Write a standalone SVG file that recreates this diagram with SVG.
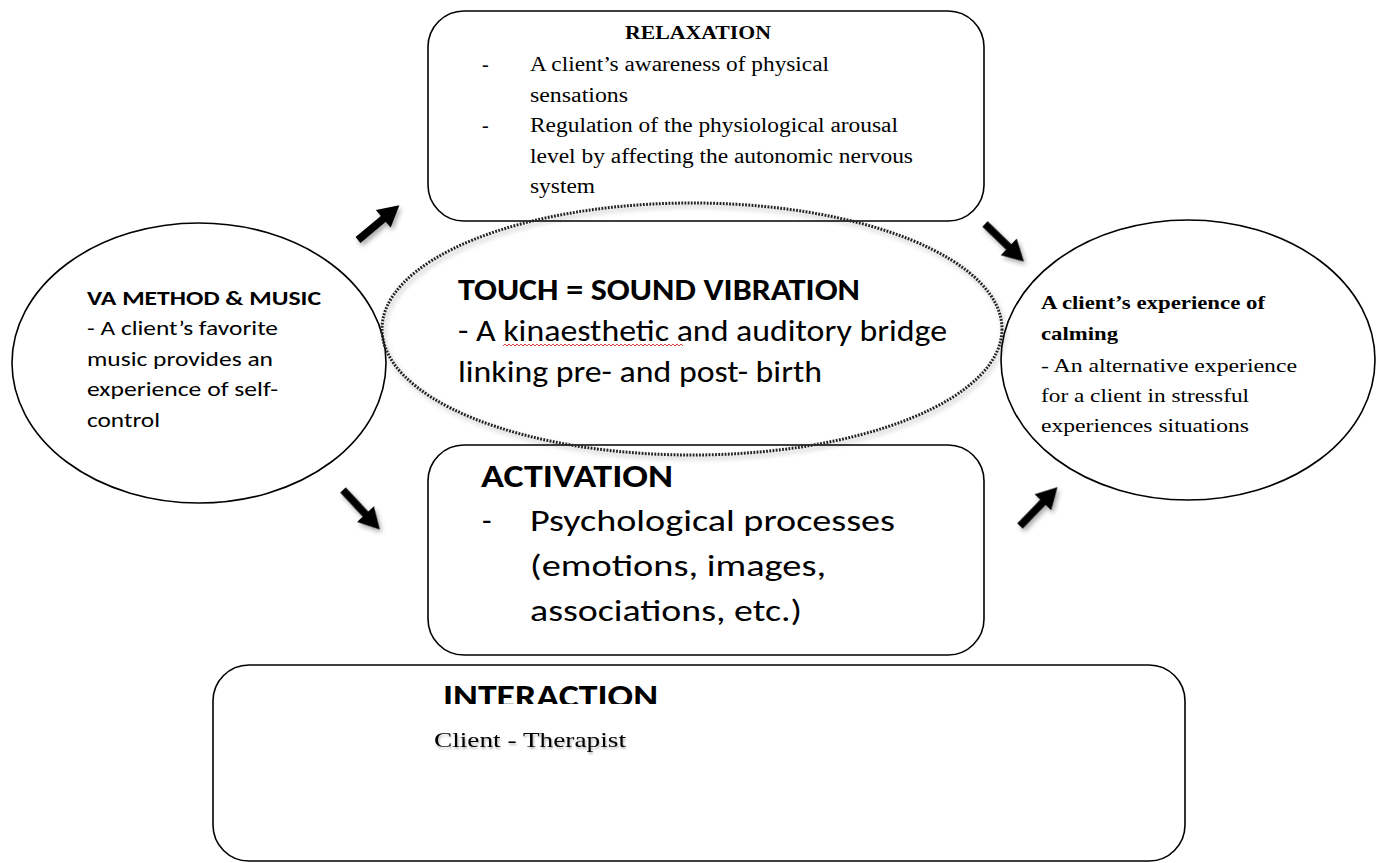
<svg xmlns="http://www.w3.org/2000/svg" width="1379" height="863" viewBox="0 0 1379 863">
<defs>
<style>
.box{fill:#fff;stroke:#000;stroke-width:1.6}
.sans{font-family:Calibri,Carlito,"Liberation Sans",Arial,sans-serif;fill:#000}
.serif{font-family:"Book Antiqua",Palatino,"Liberation Serif","DejaVu Serif",serif;fill:#000}
.b{font-weight:bold}
</style>
<filter id="sh" x="-30%" y="-30%" width="160%" height="160%">
<feGaussianBlur in="SourceAlpha" stdDeviation="2.5"/>
<feOffset dx="2" dy="3" result="o"/>
<feComponentTransfer><feFuncA type="linear" slope="0.35"/></feComponentTransfer>
<feMerge><feMergeNode/><feMergeNode in="SourceGraphic"/></feMerge>
</filter>
<filter id="tsh" x="-5%" y="-20%" width="110%" height="150%">
<feGaussianBlur in="SourceAlpha" stdDeviation="1"/>
<feOffset dx="1" dy="1.5"/>
<feComponentTransfer><feFuncA type="linear" slope="0.3"/></feComponentTransfer>
<feMerge><feMergeNode/><feMergeNode in="SourceGraphic"/></feMerge>
</filter>
<path id="arr" d="M0,-3.8 L33,-3.8 L33,-11.5 L54,0 L33,11.5 L33,3.8 L0,3.8 Z" fill="#000"/>
<clipPath id="clipInt"><rect x="400" y="670" width="400" height="34"/></clipPath>
</defs>

<g id="relaxation">
<rect class="box" x="428" y="11" width="556" height="210" rx="36"/>
<text class="serif b" x="625" y="39" font-size="19" textLength="146" lengthAdjust="spacingAndGlyphs">RELAXATION</text>
<g class="serif" font-size="20">
<text x="482" y="71">-</text>
<text x="530" y="71" textLength="299" lengthAdjust="spacingAndGlyphs">A client’s awareness of physical</text>
<text x="530" y="102" textLength="98" lengthAdjust="spacingAndGlyphs">sensations</text>
<text x="482" y="132">-</text>
<text x="530" y="132" textLength="368" lengthAdjust="spacingAndGlyphs">Regulation of the physiological arousal</text>
<text x="530" y="163" textLength="383" lengthAdjust="spacingAndGlyphs">level by affecting the autonomic nervous</text>
<text x="530" y="193" textLength="65" lengthAdjust="spacingAndGlyphs">system</text>
</g>
</g>

<g id="activation">
<rect class="box" x="428" y="445" width="556" height="210" rx="36"/>
<text class="sans b" x="481" y="487" font-size="32" textLength="192" lengthAdjust="spacingAndGlyphs">ACTIVATION</text>
<g class="sans" font-size="31">
<text x="482" y="531">-</text>
<text x="530" y="531" textLength="365" lengthAdjust="spacingAndGlyphs">Psychological processes</text>
<text x="530" y="576" textLength="296" lengthAdjust="spacingAndGlyphs">(emotions, images,</text>
<text x="530" y="621" textLength="272" lengthAdjust="spacingAndGlyphs">associations, etc.)</text>
</g>
</g>

<g id="interaction">
<rect class="box" x="213" y="665" width="972" height="196" rx="36"/>
<text class="sans b" x="443" y="707" font-size="32" textLength="215" lengthAdjust="spacingAndGlyphs" clip-path="url(#clipInt)">INTERACTION</text>
<text class="serif" x="434" y="747" font-size="21" textLength="192" lengthAdjust="spacingAndGlyphs" filter="url(#tsh)">Client - Therapist</text>
</g>

<g id="va-method">
<ellipse class="box" cx="199" cy="363" rx="187" ry="140"/>
<text class="sans b" x="87" y="305" font-size="21" textLength="234" lengthAdjust="spacingAndGlyphs">VA METHOD &amp; MUSIC</text>
<g class="sans" font-size="21">
<text x="87" y="335" textLength="191" lengthAdjust="spacingAndGlyphs">- A client’s favorite</text>
<text x="87" y="366" textLength="186" lengthAdjust="spacingAndGlyphs">music provides an</text>
<text x="87" y="396" textLength="191" lengthAdjust="spacingAndGlyphs">experience of self-</text>
<text x="87" y="427" textLength="73" lengthAdjust="spacingAndGlyphs">control</text>
</g>
</g>

<g id="calming">
<ellipse class="box" cx="1188" cy="360" rx="187" ry="140"/>
<g class="serif" font-size="19">
<text class="b" x="1041" y="309" textLength="224" lengthAdjust="spacingAndGlyphs">A client’s experience of</text>
<text class="b" x="1041" y="340" textLength="77" lengthAdjust="spacingAndGlyphs">calming</text>
<text x="1041" y="372" textLength="256" lengthAdjust="spacingAndGlyphs">- An alternative experience</text>
<text x="1041" y="402" textLength="208" lengthAdjust="spacingAndGlyphs">for a client in stressful</text>
<text x="1041" y="432" textLength="208" lengthAdjust="spacingAndGlyphs">experiences situations</text>
</g>
</g>

<g id="touch">
<ellipse cx="692" cy="329" rx="310" ry="126" fill="none" stroke="#222" stroke-width="3" stroke-dasharray="1.8 1.4" filter="url(#sh)"/>
<text class="sans b" x="458" y="300" font-size="30" textLength="402" lengthAdjust="spacingAndGlyphs">TOUCH = SOUND VIBRATION</text>
<g class="sans" font-size="30">
<text x="458" y="341" textLength="489" lengthAdjust="spacingAndGlyphs">- A kinaesthetic and auditory bridge</text>
<text x="458" y="382" textLength="364" lengthAdjust="spacingAndGlyphs">linking pre- and post- birth</text>
</g>
<path d="M503,346 l2,-2 l2,2 l2,-2 l2,2 l2,-2 l2,2 l2,-2 l2,2 l2,-2 l2,2 l2,-2 l2,2 l2,-2 l2,2 l2,-2 l2,2 l2,-2 l2,2 l2,-2 l2,2 l2,-2 l2,2 l2,-2 l2,2 l2,-2 l2,2 l2,-2 l2,2 l2,-2 l2,2 l2,-2 l2,2 l2,-2 l2,2 l2,-2 l2,2 l2,-2 l2,2 l2,-2 l2,2 l2,-2 l2,2 l2,-2 l2,2 l2,-2 l2,2 l2,-2 l2,2 l2,-2 l2,2 l2,-2 l2,2 l2,-2 l2,2 l2,-2 l2,2 l2,-2 l2,2 l2,-2 l2,2 l2,-2 l2,2 l2,-2 l2,2 l2,-2 l2,2 l2,-2 l2,2 l2,-2 l2,2 l2,-2 l2,2 l2,-2 l2,2 l2,-2 l2,2 l2,-2 l2,2 l2,-2 l2,2 l2,-2 l2,2 l2,-2 l2,2 l2,-2 l2,2 l2,-2 l2,2 l2,-2 l2,2" fill="none" stroke="#e03030" stroke-width="0.9"/>
</g>

<g id="connectors" filter="url(#sh)">
<use href="#arr" transform="translate(358,240) rotate(-40)"/>
<use href="#arr" transform="translate(985,224) rotate(44)"/>
<use href="#arr" transform="translate(343,490) rotate(47)"/>
<use href="#arr" transform="translate(1020,526) rotate(-46)"/>
</g>
</svg>
